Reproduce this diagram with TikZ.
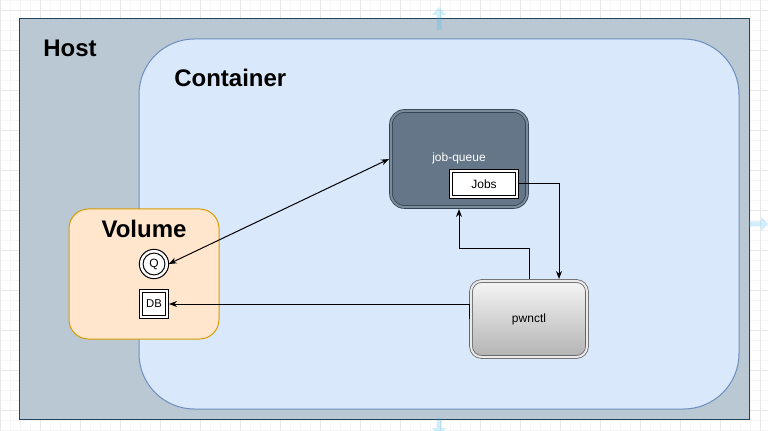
\documentclass[tikz,border=0pt]{standalone}
\usepackage{fontspec}
\setmainfont{Liberation Sans}
\usetikzlibrary{arrows.meta}
\definecolor{hostfill}{HTML}{BAC8D3}
\definecolor{hostline}{HTML}{23445D}
\definecolor{contfill}{HTML}{DAE8FC}
\definecolor{contline}{HTML}{6C8EBF}
\definecolor{jqfill}{HTML}{647687}
\definecolor{jqline}{HTML}{314354}
\definecolor{volfill}{HTML}{FFE6CC}
\definecolor{volline}{HTML}{D79B00}
\definecolor{pwtop}{HTML}{F5F5F5}
\definecolor{pwbot}{HTML}{B3B3B3}
\definecolor{pwline}{HTML}{666666}
\definecolor{minorgrid}{HTML}{F6F6F6}
\definecolor{majorgrid}{HTML}{E8E8E8}
\definecolor{hoverblue}{HTML}{29B6F2}
\tikzset{
  box/.style={draw, line width=0.75pt, inner sep=0pt, outer sep=0pt},
  dbl/.style={double, double distance=1.5pt, line width=0.6pt, outer sep=1.5pt},
  conn/.style={draw=black, line width=0.75pt},
  tip/.style={-{Stealth[length=6pt,width=4.5pt]}},
  bigtitle/.style={font=\fontsize{18pt}{20pt}\selectfont\bfseries, inner sep=0pt},
  lbl/.style={font=\fontsize{9pt}{11pt}\selectfont, inner sep=0pt},
  hover/.style={fill=hoverblue, fill opacity=0.22, draw=none}
}
\begin{document}
\begin{tikzpicture}[x=0.75pt,y=-0.75pt]
\useasboundingbox (0,0) rectangle (768,431);
\fill[white] (0,0) rectangle (768,431);
% background grid
\foreach \x in {0,10,...,760} \draw[minorgrid, line width=0.5pt] (\x,0) -- (\x,431);
\foreach \y in {0,10,...,430} \draw[minorgrid, line width=0.5pt] (0,\y) -- (768,\y);
\foreach \x in {0,40,...,760} \draw[majorgrid, line width=0.5pt] (\x,0) -- (\x,431);
\foreach \y in {10,50,...,410} \draw[majorgrid, line width=0.5pt] (0,\y) -- (768,\y);

% Host
\node[box, draw=hostline, fill=hostfill, minimum width=547.5pt, minimum height=300pt] (host) at (384,219) {};
\node[bigtitle, anchor=west] (hostlbl) at (43,48) {Host};

% Container
\node[box, draw=contline, fill=contfill, rounded corners=41.6pt, minimum width=450pt, minimum height=277.5pt] (cont) at (439,224) {};
\node[bigtitle, anchor=west] (contlbl) at (174,78) {Container};

% Volume
\node[box, draw=volline, fill=volfill, rounded corners=14.6pt, minimum width=112.5pt, minimum height=97.5pt] (vol) at (144,274) {};
\node[bigtitle] (vollbl) at (144,229) {Volume};

% Q (double ellipse)
\node[box, draw=black, fill=white, circle, minimum size=22pt,
      path picture={\draw[line width=0.75pt] (path picture bounding box.center) circle[radius=8.2pt];}] (q) at (154,264) {};
\node[lbl] (qlbl) at (154,264.5) {Q};

% DB
\node[box, dbl, draw=black, fill=white, minimum width=19.5pt, minimum height=19.5pt] (db) at (154,304) {};
\node[lbl, font=\fontsize{8.5pt}{10pt}\selectfont] (dblbl) at (154,304) {DB};

% job-queue
\node[box, dbl, draw=jqline, double=jqfill!85!white, fill=jqfill, rounded corners=10pt, minimum width=102pt, minimum height=72pt] (jq) at (459,159) {};
\node[lbl, text=white] (jqlbl) at (459,158) {job-queue};

% Jobs
\node[box, dbl, draw=black, fill=white, minimum width=49.5pt, minimum height=19.5pt] (jobs) at (484,184) {};
\node[lbl] (jobslbl) at (484,184) {Jobs};

% pwnctl
\node[box, dbl, draw=pwline, double=white!92!black, top color=pwtop, bottom color=pwbot, rounded corners=8pt, minimum width=87pt, minimum height=57pt] (pw) at (529,319) {};
\node[lbl] (pwlbl) at (529,319) {pwnctl};

% connectors
\draw[conn, {Stealth[length=6pt,width=4.5pt]}-{Stealth[length=6pt,width=4.5pt]}] (q.east) -- (jq.west);
\draw[conn, tip] (jobs.east) -| ([xshift=22.5pt]pw.north);
\draw[conn, tip] (pw.north) -- ++(0,-30) -| (jq.south);
\draw[conn, tip] (pw.west) |- (db.east);

% faint hover arrows
\path[hover] (436.5,30) -- (436.5,15) -- (432,15) -- (439,7) -- (446,15) -- (441.5,15) -- (441.5,30) -- cycle;
\path[hover] (749,221.5) -- (761,221.5) -- (761,217) -- (768,224) -- (761,231) -- (761,226.5) -- (749,226.5) -- cycle;
\path[hover] (436.5,418) -- (441.5,418) -- (441.5,428) -- (446,428) -- (439,436) -- (432,428) -- (436.5,428) -- cycle;
\end{tikzpicture}
\end{document}
